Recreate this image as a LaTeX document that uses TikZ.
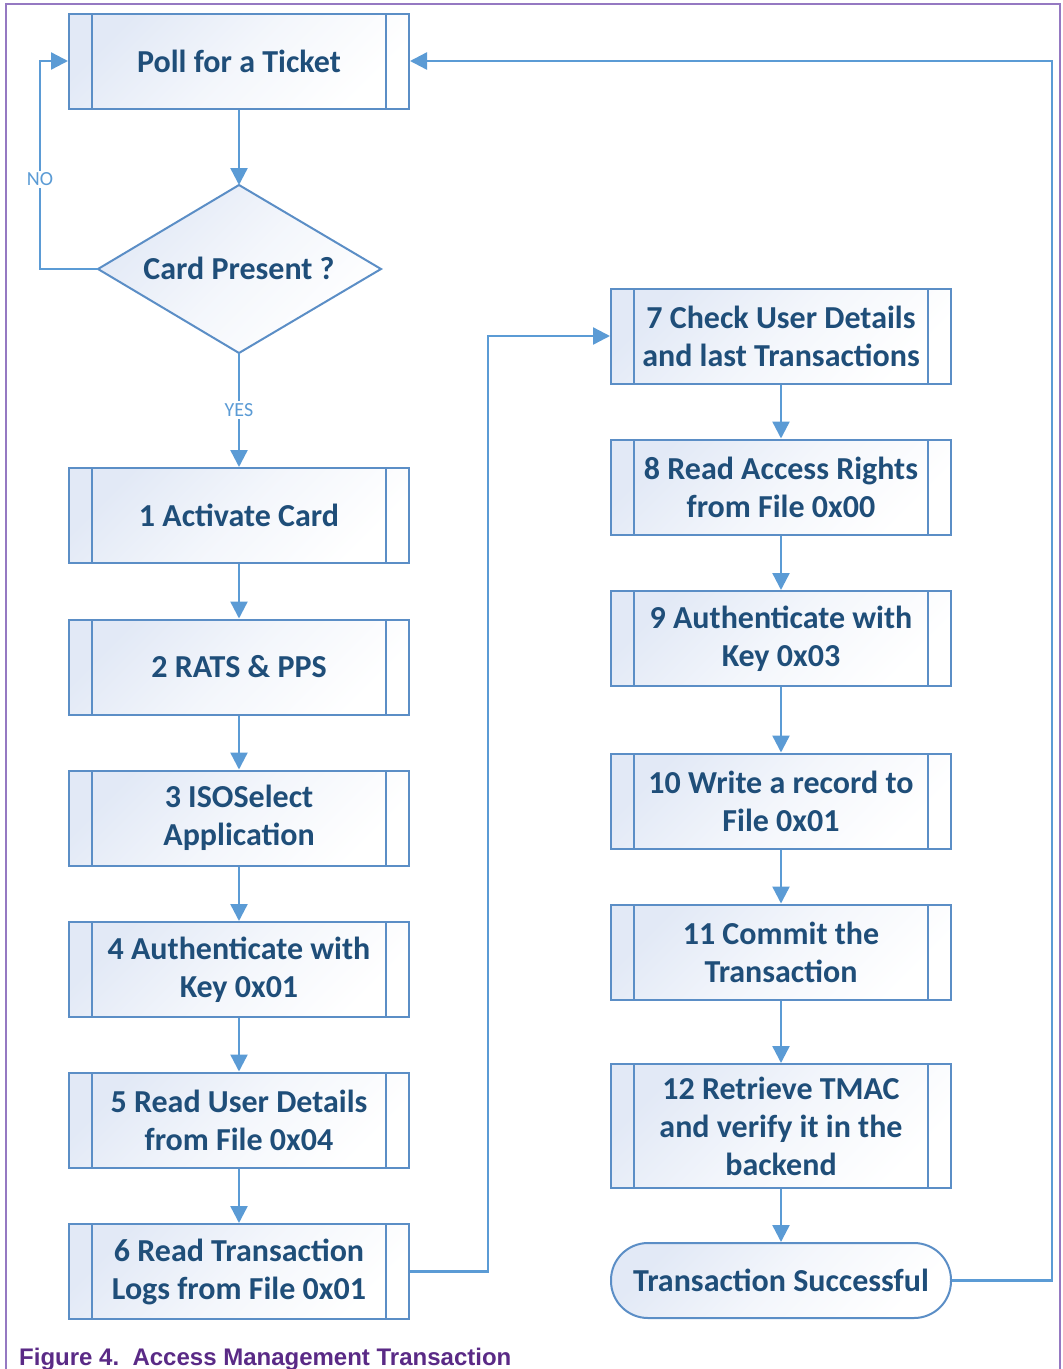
\documentclass[tikz,border=0pt]{standalone}
\usepackage{fontspec}
\setmainfont{Carlito}
\newfontfamily\capfont{Liberation Sans}
\usetikzlibrary{arrows.meta}
\definecolor{flowline}{HTML}{5B9BD5}
\definecolor{flowedge}{HTML}{5B8EC6}
\definecolor{flowtext}{HTML}{1F4E79}
\definecolor{flowtint}{HTML}{E2E9F6}
\definecolor{framecol}{HTML}{9579C2}
\definecolor{capcol}{HTML}{5A2A86}
\begin{document}
\begin{tikzpicture}[x=1pt,y=-1pt,
  every node/.style={font=\bfseries\fontsize{32}{38}\selectfont, text=flowtext, align=center},
  shaded/.style={draw=flowedge, line width=2pt, top color=flowtint, bottom color=white, middle color=white!60!flowtint, shading angle=45},
  process/.style={shaded, rectangle, minimum width=340pt, minimum height=95pt, inner sep=0pt,
    path picture={
      \draw[flowedge, line width=2pt]
        ([xshift=23pt]path picture bounding box.north west) -- ([xshift=23pt]path picture bounding box.south west)
        ([xshift=-23pt]path picture bounding box.north east) -- ([xshift=-23pt]path picture bounding box.south east);}},
  decision/.style={shaded, draw=flowedge},
  terminal/.style={shaded, rectangle, rounded corners=37pt, minimum width=340pt, minimum height=75pt, inner sep=0pt},
  flow/.style={draw=flowline, line width=2.4pt, -{Triangle[width=17pt,length=17pt]}},
  tag/.style={font=\fontsize{20}{22}\selectfont, text=flowline, fill=white, inner sep=2pt}
]
\useasboundingbox (0,0) rectangle (1063,1369);

% frame
\draw[framecol, line width=1.6pt] (6,1369) -- (6,4) -- (1060,4) -- (1060,1369);

% left column
\node[process] (poll) at (239,61) {Poll for a Ticket};
\path[decision] (239,185) -- (381,269) -- (239,353) -- (98,269) -- cycle;
\node[inner sep=0pt] (card) at (239,268) {Card Present ?};
\coordinate (cardN) at (239,185);
\coordinate (cardS) at (239,353);
\coordinate (cardW) at (98,269);
\node[process] (s1) at (239,515.5) {1 Activate Card};
\node[process] (s2) at (239,667) {2 RATS \& PPS};
\node[process] (s3) at (239,818) {3 ISOSelect\\Application};
\node[process] (s4) at (239,969.5) {4 Authenticate with\\Key 0x01};
\node[process] (s5) at (239,1120) {5 Read User Details\\from File 0x04};
\node[process] (s6) at (239,1271.5) {6 Read Transaction\\Logs from File 0x01};

% right column
\node[process] (s7) at (781,336) {7 Check User Details\\and last Transactions};
\node[process] (s8) at (781,487) {8 Read Access Rights\\from File 0x00};
\node[process] (s9) at (781,638.5) {9 Authenticate with\\Key 0x03};
\node[process] (s10) at (781,801) {10 Write a record to\\File 0x01};
\node[process] (s11) at (781,952) {11 Commit the\\Transaction};
\node[process, minimum height=124pt] (s12) at (781,1126) {12 Retrieve TMAC\\and verify it in the\\backend};
\node[terminal] (done) at (781,1280.5) {Transaction Successful};

% connectors
\draw[flow] (poll.south) -- (cardN);
\draw[flow] (cardS) -- node[tag, pos=0.5] {YES} (s1.north);
\draw[flow] (cardW) -- ++(-58,0) |- node[tag, pos=0.215] {NO} (poll.west);
\draw[flow] (s1) -- (s2);
\draw[flow] (s2) -- (s3);
\draw[flow] (s3) -- (s4);
\draw[flow] (s4) -- (s5);
\draw[flow] (s5) -- (s6);
\draw[flow] (s6.east) -- ++(78,0) |- (s7.west);
\draw[flow] (s7) -- (s8);
\draw[flow] (s8) -- (s9);
\draw[flow] (s9) -- (s10);
\draw[flow] (s10) -- (s11);
\draw[flow] (s11) -- (s12);
\draw[flow] (s12) -- (done);
\draw[flow] (done.east) -- ++(100,0) |- (poll.east);

% caption
\node[anchor=base west, font=\capfont\bfseries\fontsize{24}{26}\selectfont, text=capcol, inner sep=0pt] (caption) at (19,1365) {Figure 4.\ \ Access Management Transaction};
\end{tikzpicture}
\end{document}
